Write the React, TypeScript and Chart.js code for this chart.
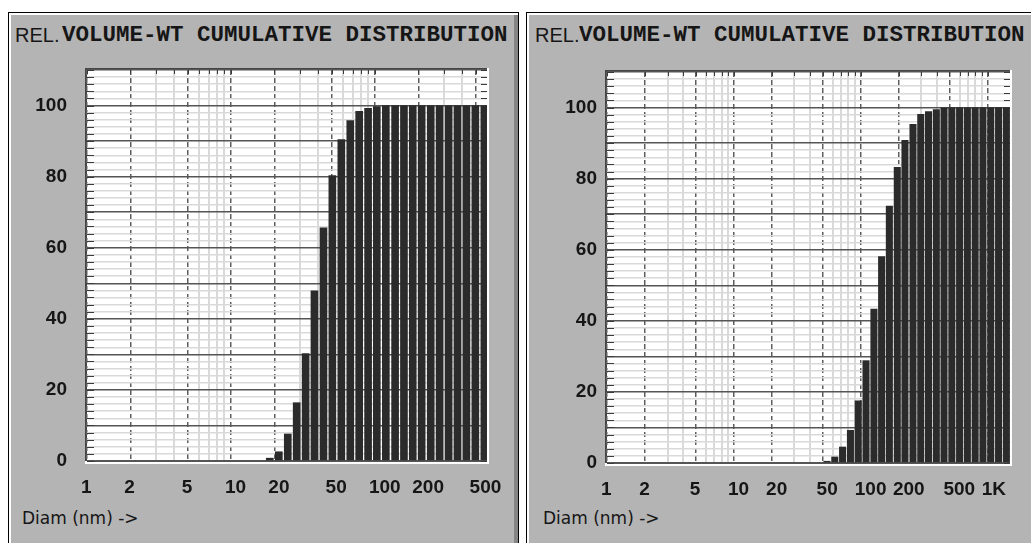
import React, { useEffect, useRef } from 'react';
import { Chart, registerables } from 'chart.js';

Chart.register(...registerables);

// ---------- data ----------
const TITLE_PREFIX = 'REL.';
const TITLE_MAIN = 'VOLUME-WT CUMULATIVE DISTRIBUTION';
const X_TITLE = 'Diam (nm) ->';

const LEFT_DIAMETERS = [18.6, 21.5, 24.8, 28.6, 33.0, 38.0, 43.9, 50.6, 58.4, 67.4, 77.7, 89.6, 103, 119, 138, 159, 183, 211, 244, 281, 325, 374, 432, 498, 575];
const LEFT_VALUES = [0.8, 2.6, 7.6, 16.4, 30.2, 47.9, 65.6, 80.3, 90.4, 95.8, 98.4, 99.2, 99.7, 100, 100, 100, 100, 100, 100, 100, 100, 100, 100, 100, 100];

const RIGHT_DIAMETERS = [54.2, 62.4, 71.9, 82.9, 95.5, 110, 127, 146, 168, 194, 223, 258, 297, 342, 394, 453, 522, 601, 692, 797, 918, 1058, 1219, 1404];
const RIGHT_VALUES = [0.5, 1.7, 4.5, 9.2, 17.5, 28.8, 43.3, 58.1, 72.3, 83.2, 90.8, 95.3, 98.1, 98.9, 99.4, 99.9, 100, 100, 100, 100, 100, 100, 100, 100];

const LEFT_X_GRID = [1, 2, 3, 4, 5, 6, 7, 8, 9, 10, 20, 30, 40, 50, 60, 70, 80, 90, 100, 200, 300, 400, 500];
const RIGHT_X_GRID = [1, 2, 3, 4, 5, 6, 7, 8, 9, 10, 20, 30, 40, 50, 60, 70, 80, 90, 100, 200, 300, 400, 500, 600, 700, 800, 900, 1000];
const LEFT_X_MAJOR = [1, 2, 5, 10, 20, 50, 100, 200, 500];
const LEFT_X_LABELS = ['1', '2', '5', '10', '20', '50', '100', '200', '500'];
const RIGHT_X_MAJOR = [1, 2, 5, 10, 20, 50, 100, 200, 500, 1000];
const RIGHT_X_LABELS = ['1', '2', '5', '10', '20', '50', '100', '200', '500', '1K'];
const Y_LABELS = [0, 20, 40, 60, 80, 100];

// ---------- style ----------
const PANEL_GRAY = '#b4b4b4';
const BAR_COLOR = '#2b2b2b';
const GRID_DARK = '#555555';
const GRID_LIGHT = '#d9d9d9';
const VGRID_DARK = '#5e5e5e';
const TEXT = '#161616';
const TICK_FONT = { family: '"Liberation Sans", Arial, sans-serif', weight: 'bold' as const, size: 19 };

const framePlugin = {
  id: 'frame',
  beforeDraw(chart: any) {
    const { ctx, chartArea: a } = chart;
    ctx.save();
    ctx.fillStyle = '#ffffff';
    ctx.fillRect(a.left, a.top, a.right - a.left, a.bottom - a.top);
    ctx.fillStyle = '#454545';
    ctx.fillRect(a.left - 2, a.top - 2, a.right - a.left + 2, 2);
    ctx.fillRect(a.left - 2, a.top - 2, 2, a.bottom - a.top + 2);
    ctx.fillStyle = '#ffffff';
    ctx.fillRect(a.right, a.top - 2, 2, a.bottom - a.top + 5);
    ctx.fillRect(a.left - 2, a.bottom, a.right - a.left + 4, 3);
    ctx.restore();
  },
  beforeDatasetsDraw(chart: any) {
    const { ctx, chartArea: a, scales } = chart;
    const ys = scales.y;
    const xs = scales.x;
    ctx.save();
    ctx.strokeStyle = '#3a3a3a';
    ctx.lineWidth = 1;
    ctx.beginPath();
    for (const t of ys.ticks) {
      const py = Math.round(ys.getPixelForValue(t.value)) + 0.5;
      ctx.moveTo(a.left, py);
      ctx.lineTo(a.left + 7, py);
      ctx.moveTo(a.right - 6, py);
      ctx.lineTo(a.right, py);
    }
    for (const t of xs.ticks) {
      const px = Math.round(xs.getPixelForValue(t.value)) + 0.5;
      ctx.moveTo(px, a.top);
      ctx.lineTo(px, a.top + 4);
    }
    ctx.stroke();
    ctx.restore();
  },
};

type PanelSpec = {
  diam: number[];
  values: number[];
  xMax: number;
  grid: number[];
  major: number[];
  labels: string[];
  yPad: number;
  rightPad: number;
  barThickness: number;
};

function makeConfig(p: PanelSpec): any {
  return {
    type: 'bar',
    data: {
      datasets: [
        {
          data: p.diam.map((d, i) => ({ x: d, y: p.values[i] })),
          backgroundColor: BAR_COLOR,
          borderWidth: 0,
          barThickness: p.barThickness,
          xAxisID: 'x',
          yAxisID: 'y',
        },
      ],
    },
    options: {
      animation: false,
      responsive: false,
      devicePixelRatio: 1,
      events: [],
      layout: { padding: { left: 0, right: p.rightPad, top: 34, bottom: 0 } },
      plugins: { legend: { display: false }, tooltip: { enabled: false }, title: { display: false } },
      scales: {
        x: {
          type: 'logarithmic',
          position: 'bottom',
          offset: false,
          min: 1,
          max: p.xMax,
          afterBuildTicks: (s: any) => {
            s.ticks = p.grid.map((v) => ({ value: v }));
          },
          afterFit: (s: any) => {
            s.height = 40;
          },
          grid: {
            offset: false,
            color: (c: any) => (c.tick && p.major.includes(c.tick.value) ? 'rgba(0,0,0,0)' : GRID_LIGHT),
            lineWidth: 2,
            drawTicks: false,
          },
          border: { display: false },
          ticks: {
            autoSkip: false,
            maxRotation: 0,
            minRotation: 0,
            align: 'start',
            labelOffset: -6,
            padding: 15,
            color: TEXT,
            font: TICK_FONT,
            callback: (v: any) => {
              const i = p.major.indexOf(Number(v));
              return i >= 0 ? p.labels[i] : '';
            },
          },
        },
        x2: {
          type: 'logarithmic',
          position: 'top',
          offset: false,
          min: 1,
          max: p.xMax,
          afterBuildTicks: (s: any) => {
            s.ticks = p.major.map((v) => ({ value: v }));
          },
          afterFit: (s: any) => {
            s.height = 0;
          },
          grid: { offset: false, color: VGRID_DARK, lineWidth: 1.5, drawTicks: false },
          border: { display: false, dash: [5, 3] },
          ticks: { display: false },
        },
        y: {
          type: 'linear',
          min: 0,
          max: 110,
          afterFit: (s: any) => {
            s.width = 77;
          },
          grid: {
            color: (c: any) => (c.tick && c.tick.value % 10 === 0 ? GRID_DARK : GRID_LIGHT),
            lineWidth: (c: any) => (c.tick && c.tick.value === 0 ? 2 : 1.5),
            drawTicks: false,
          },
          border: { display: false },
          ticks: {
            stepSize: 2,
            maxTicksLimit: 100,
            autoSkip: false,
            padding: p.yPad,
            color: TEXT,
            font: TICK_FONT,
            callback: (v: any) => (Y_LABELS.includes(Number(v)) ? String(v) : ''),
          },
        },
      },
    },
    plugins: [framePlugin],
  };
}

function ChartCanvas(props: { spec: PanelSpec; left: number; top: number; width: number; height: number }) {
  const ref = useRef<HTMLCanvasElement | null>(null);
  useEffect(() => {
    if (!ref.current) return;
    const chart = new Chart(ref.current, makeConfig(props.spec));
    return () => chart.destroy();
  }, []);
  return (
    <canvas
      ref={ref}
      width={props.width}
      height={props.height}
      style={{ position: 'absolute', left: props.left, top: props.top, width: props.width, height: props.height }}
    />
  );
}

const LEFT_SPEC: PanelSpec = {
  diam: LEFT_DIAMETERS,
  values: LEFT_VALUES,
  xMax: 600,
  grid: LEFT_X_GRID,
  major: LEFT_X_MAJOR,
  labels: LEFT_X_LABELS,
  yPad: 20,
  rightPad: 45,
  barThickness: 7,
};

const RIGHT_SPEC: PanelSpec = {
  diam: RIGHT_DIAMETERS,
  values: RIGHT_VALUES,
  xMax: 1500,
  grid: RIGHT_X_GRID,
  major: RIGHT_X_MAJOR,
  labels: RIGHT_X_LABELS,
  yPad: 10,
  rightPad: 21,
  barThickness: 6.4,
};

function Texts(props: { prefixLeft: number; mainLeft: number; axisLeft: number }) {
  return (
    <>
      <div
        style={{
          position: 'absolute',
          left: props.prefixLeft,
          top: 24.6,
          fontFamily: '"Liberation Sans", Arial, sans-serif',
          fontSize: 20,
          lineHeight: '20px',
          color: TEXT,
          whiteSpace: 'nowrap',
        }}
      >
        {TITLE_PREFIX}
      </div>
      <div
        style={{
          position: 'absolute',
          left: props.mainLeft,
          top: 24.3,
          fontFamily: '"Liberation Mono", "Courier New", monospace',
          fontWeight: 'bold',
          fontSize: 22.5,
          lineHeight: '22.5px',
          color: TEXT,
          whiteSpace: 'nowrap',
        }}
      >
        {TITLE_MAIN}
      </div>
      <div
        style={{
          position: 'absolute',
          left: props.axisLeft,
          top: 510,
          fontFamily: '"DejaVu Sans", sans-serif',
          fontSize: 17,
          lineHeight: '17px',
          color: TEXT,
          whiteSpace: 'nowrap',
        }}
      >
        {X_TITLE}
      </div>
    </>
  );
}

export default function App() {
  return (
    <div
      style={{
        position: 'fixed',
        left: 0,
        top: 0,
        width: 1031,
        height: 543,
        overflow: 'hidden',
        background: '#ffffff',
      }}
    >
      <div
        style={{
          position: 'absolute',
          left: 8,
          top: 12,
          width: 511,
          height: 600,
          boxSizing: 'border-box',
          background: PANEL_GRAY,
          borderLeft: '1px solid #000',
          borderTop: '1px solid #000',
          borderRight: '1px solid #000',
          boxShadow: 'inset 2px 2px 0 #ffffff, inset -4px 0 0 #858585',
        }}
      />
      <div
        style={{
          position: 'absolute',
          left: 526,
          top: 12,
          width: 600,
          height: 600,
          boxSizing: 'border-box',
          background: PANEL_GRAY,
          borderLeft: '1px solid #000',
          borderTop: '1px solid #000',
          boxShadow: 'inset 2px 2px 0 #ffffff',
        }}
      />
      <Texts prefixLeft={15} mainLeft={62} axisLeft={22} />
      <Texts prefixLeft={535} mainLeft={579} axisLeft={543} />
      <ChartCanvas spec={LEFT_SPEC} left={10} top={36} width={522} height={465} />
      <ChartCanvas spec={RIGHT_SPEC} left={530} top={38} width={501} height={465} />
    </div>
  );
}
